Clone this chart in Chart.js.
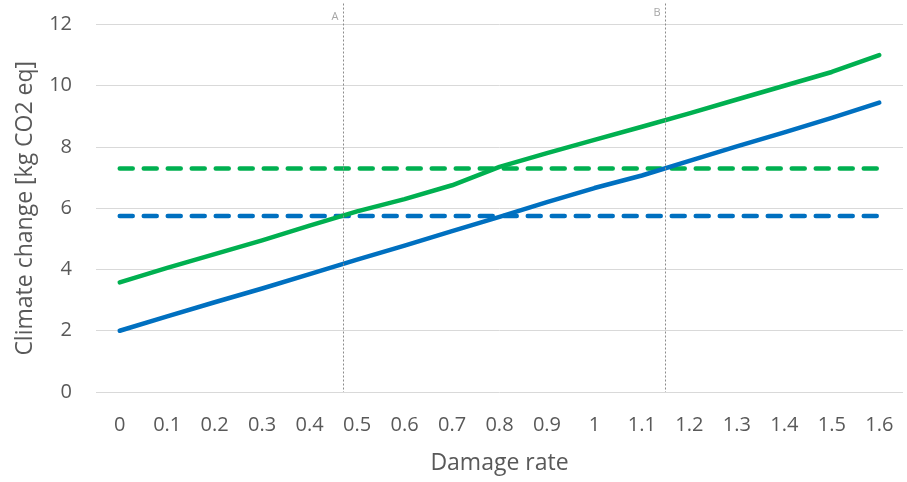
<!DOCTYPE html>
<html>
<head>
<meta charset="utf-8">
<script src="https://cdn.jsdelivr.net/npm/chart.js@4/dist/chart.umd.min.js"></script>
<style>
  html, body { margin: 0; padding: 0; background: #fff; }
  #wrap { width: 907px; height: 482px; }
</style>
</head>
<body>
<div id="wrap"><canvas id="chart" width="907" height="482"></canvas></div>
<script>
// ── Data ───────────────────────────────────────────────
var damageRates = ['0', '0.1', '0.2', '0.3', '0.4', '0.5', '0.6', '0.7', '0.8',
                   '0.9', '1', '1.1', '1.2', '1.3', '1.4', '1.5', '1.6'];

var greenSeries = [3.58, 4.05, 4.5, 4.95, 5.43, 5.9, 6.3, 6.75, 7.35,
                   7.8, 8.23, 8.66, 9.1, 9.55, 10.0, 10.45, 11.0];
var blueSeries  = [2.0, 2.47, 2.93, 3.38, 3.85, 4.32, 4.78, 5.25, 5.72,
                   6.2, 6.66, 7.07, 7.55, 8.02, 8.48, 8.95, 9.45];

var greenLevel = damageRates.map(function () { return 7.3; });
var blueLevel  = damageRates.map(function () { return 5.75; });

// vertical markers (damage rate where the dashed level is crossed)
var markerLabels = ['A', 'B'];
var markerRates  = [0.47, 1.148];

var yTicks = [0, 2, 4, 6, 8, 10, 12];

// ── Colors ──────────────────────────────────────────────
var colorGreen = '#00B050';
var colorBlue  = '#0070C0';
var textGray   = '#595959';
var gridGray   = '#d9d9d9';

// ── Vertical dotted marker lines ────────────────────────
var markerPlugin = {
    id: 'markers',
    afterDatasetsDraw: function (chart) {
        var x = chart.scales.x, area = chart.chartArea, ctx = chart.ctx;
        var first = Number(damageRates[0]);
        var last  = Number(damageRates[damageRates.length - 1]);
        var p0 = x.getPixelForValue(0);
        var p1 = x.getPixelForValue(damageRates.length - 1);
        ctx.save();
        markerRates.forEach(function (r, i) {
            var px = Math.round(p0 + (r - first) / (last - first) * (p1 - p0)) + 0.5;
            ctx.strokeStyle = '#8c8c8c';
            ctx.lineWidth = 1;
            ctx.setLineDash([2, 2]);
            ctx.beginPath();
            ctx.moveTo(px, Math.max(area.top - 21, 3));
            ctx.lineTo(px, area.bottom);
            ctx.stroke();
            ctx.fillStyle = '#a6a6a6';
            ctx.font = '11px "Open Sans", sans-serif';
            ctx.textAlign = 'right';
            ctx.textBaseline = 'middle';
            ctx.fillText(markerLabels[i], px - 5, area.top - (i === 0 ? 7.5 : 11.5));
        });
        ctx.restore();
    }
};

new Chart(document.getElementById('chart'), {
    type: 'line',
    data: {
        labels: damageRates,
        datasets: [
            { data: greenSeries, borderColor: colorGreen, borderWidth: 4.5, pointRadius: 0, tension: 0, borderCapStyle: 'round', borderJoinStyle: 'round' },
            { data: blueSeries,  borderColor: colorBlue,  borderWidth: 4.5, pointRadius: 0, tension: 0, borderCapStyle: 'round', borderJoinStyle: 'round' },
            { data: greenLevel,  borderColor: colorGreen, borderWidth: 4.5, pointRadius: 0, borderDash: [13, 11], borderCapStyle: 'round' },
            { data: blueLevel,   borderColor: colorBlue,  borderWidth: 4.5, pointRadius: 0, borderDash: [13, 11], borderCapStyle: 'round' }
        ]
    },
    options: {
        responsive: false,
        animation: false,
        layout: { padding: { top: 24.5, right: 4, bottom: 2, left: 8 } },
        plugins: { legend: { display: false }, tooltip: { enabled: false } },
        scales: {
            x: {
                type: 'category',
                offset: true,
                grid: { display: false, drawTicks: false },
                border: { display: false },
                ticks: { color: textGray, padding: 21, maxRotation: 0, autoSkip: false,
                         font: { family: 'Open Sans', size: 20 } },
                title: { display: true, text: 'Damage rate', color: textGray,
                         font: { family: 'Open Sans', size: 23 }, padding: { top: 14, bottom: 3 } },
                afterFit: function (axis) {
                    axis.height = 88;
                    axis.paddingLeft = 0;
                    axis.paddingRight = 0;
                }
            },
            y: {
                min: 0, max: 12,
                afterBuildTicks: function (axis) {
                    axis.ticks = yTicks.map(function (v) { return { value: v }; });
                },
                grid: { color: gridGray, lineWidth: 1, drawTicks: false },
                border: { display: false },
                ticks: { color: textGray, padding: 24, font: { family: 'Open Sans', size: 20 } },
                title: { display: true, text: 'Climate change [kg CO2 eq]', color: textGray,
                         font: { family: 'Open Sans', size: 23 }, padding: { top: 4, bottom: 8 } },
                afterFit: function (axis) {
                    axis.width = 88;
                    axis.paddingTop = 0;
                    axis.paddingBottom = 0;
                }
            }
        }
    },
    plugins: [markerPlugin]
});
</script>
</body>
</html>
